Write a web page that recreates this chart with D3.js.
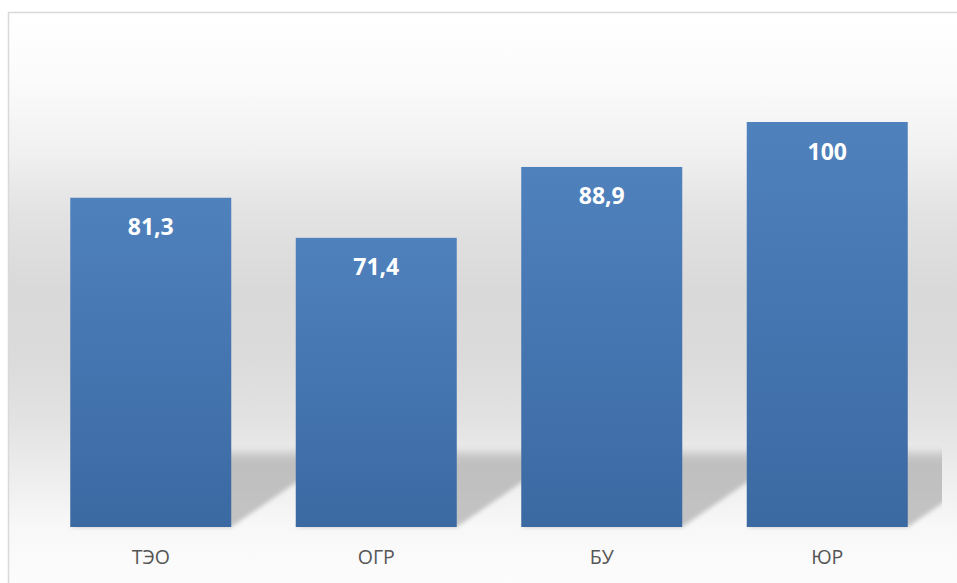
<!DOCTYPE html>
<html>
<head>
<meta charset="utf-8">
<script src="https://cdn.jsdelivr.net/npm/d3@7"></script>
<style>
  html, body { margin: 0; padding: 0; background: #ffffff; }
  svg { display: block; }
</style>
</head>
<body>
<svg id="chart" width="957" height="583"></svg>
<script>
const categories = ["ТЭО", "ОГР", "БУ", "ЮР"];
const values = [81.3, 71.4, 88.9, 100];
const valueLabels = ["81,3", "71,4", "88,9", "100"];

const W = 957, H = 583;
const svg = d3.select("#chart");
const defs = svg.append("defs");

// background gradient (absolute coords)
const bg = defs.append("linearGradient").attr("id", "bgGrad")
  .attr("gradientUnits", "userSpaceOnUse").attr("x1", 0).attr("x2", 0).attr("y1", 13).attr("y2", 583);
[[13, "#ffffff"], [80, "#fbfbfb"], [150, "#f1f1f1"], [210, "#e3e3e3"], [290, "#d9d9d9"],
 [360, "#dbdbdb"], [420, "#e2e2e2"], [480, "#eeeeee"], [527, "#f8f8f8"], [583, "#fcfcfc"]]
  .forEach(([y, c]) => bg.append("stop").attr("offset", (y - 13) / 570).attr("stop-color", c));

const barGrad = defs.append("linearGradient").attr("id", "barGrad")
  .attr("x1", 0).attr("x2", 0).attr("y1", 0).attr("y2", 1);
barGrad.append("stop").attr("offset", 0).attr("stop-color", "#4f81bd");
barGrad.append("stop").attr("offset", 1).attr("stop-color", "#3b69a2");

const shGrad = defs.append("linearGradient").attr("id", "shGrad")
  .attr("x1", 0).attr("x2", 0).attr("y1", 0).attr("y2", 1);
[[0, "#e9e9e9"], [0.06, "#e6e6e6"], [0.16, "#c8c8c8"], [0.24, "#bfbfbf"], [1, "#c3c3c3"]]
  .forEach(([o, c]) => shGrad.append("stop").attr("offset", o).attr("stop-color", c));

defs.append("filter").attr("id", "blur").attr("x", "-10%").attr("y", "-10%").attr("width", "120%").attr("height", "120%")
  .append("feGaussianBlur").attr("stdDeviation", 2.2);

defs.append("clipPath").attr("id", "plotClip")
  .append("rect").attr("x", 9).attr("y", 13).attr("width", 933).attr("height", 520);

// chart frame + background
svg.append("rect").attr("x", 8.5).attr("y", 12.5).attr("width", 980).attr("height", 600)
  .attr("fill", "url(#bgGrad)").attr("stroke", "#d9d9d9").attr("stroke-width", 1.5);

const x = d3.scaleBand().domain(categories).range([38, 940]).paddingInner(0.286).paddingOuter(0.143);
const y = d3.scaleLinear().domain([0, 120]).range([527, 41]);

const data = categories.map((c, i) => ({ c, v: values[i], label: valueLabels[i] }));

// perspective floor shadows
const shadowTop = 443, slope = 1.45;
const shadowG = svg.append("g").attr("clip-path", "url(#plotClip)");
shadowG.selectAll("path.shadow").data(data).join("path")
  .attr("class", "shadow")
  .attr("d", d => {
    const x0 = x(d.c), x1 = x0 + x.bandwidth();
    const b = y(0), dx = (b - shadowTop) * slope;
    return `M${x0},${b}L${x1},${b}L${x1 + dx},${shadowTop}L${x0 + dx},${shadowTop}Z`;
  })
  .attr("fill", "url(#shGrad)")
  .attr("filter", "url(#blur)");

// bars
svg.selectAll("rect.bar").data(data).join("rect")
  .attr("class", "bar")
  .attr("x", d => x(d.c))
  .attr("y", d => y(d.v))
  .attr("width", x.bandwidth())
  .attr("height", d => y(0) - y(d.v))
  .attr("fill", "url(#barGrad)");

// value labels
svg.selectAll("text.val").data(data).join("text")
  .attr("class", "val")
  .attr("x", d => x(d.c) + x.bandwidth() / 2)
  .attr("y", d => y(d.v) + 37.5)
  .attr("text-anchor", "middle")
  .attr("font-family", "'Open Sans', Lato, sans-serif")
  .attr("font-weight", "bold")
  .attr("font-size", 23)
  .attr("fill", "#ffffff")
  .text(d => d.label);

// category axis
const xAxis = d3.axisBottom(x).tickSize(0).tickPadding(0);
const axG = svg.append("g").attr("transform", `translate(0,${y(0)})`).call(xAxis);
axG.select(".domain").remove();
axG.selectAll("text")
  .attr("dy", null)
  .attr("y", 36.5)
  .attr("font-family", "'Open Sans', sans-serif")
  .attr("font-size", 19.5)
  .attr("fill", "#555555");
</script>
</body>
</html>
